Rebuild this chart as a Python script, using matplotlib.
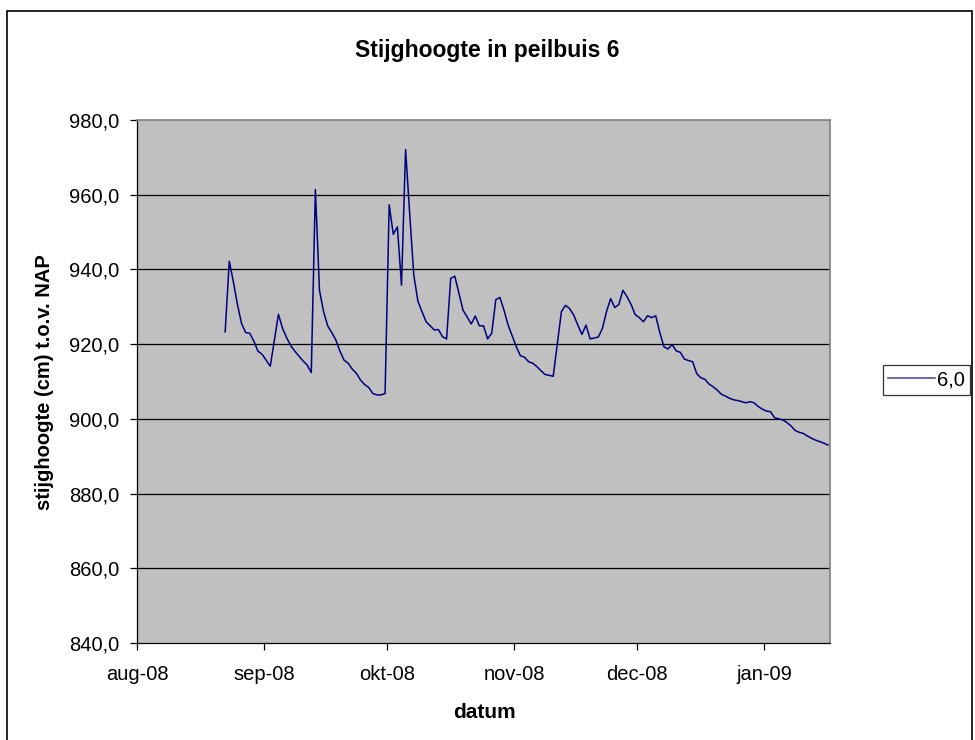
import numpy as np
import matplotlib
matplotlib.use("Agg")
import matplotlib.pyplot as plt
from matplotlib.ticker import FuncFormatter, MultipleLocator
from matplotlib.patches import Rectangle
import datetime as dt

# days since 1 aug 2008 for each reading
day_offsets = [21, 22, 23, 24, 25, 26, 27, 28, 29, 30, 32, 34, 35, 36, 37, 38,
               39, 40, 41, 42, 43, 44, 45, 46, 47, 48, 49, 50, 51, 52, 53, 54,
               55, 56, 57, 58, 59, 60, 61, 62, 63, 64, 65, 66, 67, 68, 69, 70,
               71, 72, 73, 74, 75, 76, 77, 78, 79, 80, 81, 82, 83, 84, 85, 86,
               87, 88, 89, 90, 91, 92, 93, 94, 95, 96, 97, 98, 99, 101, 102, 103,
               104, 105, 106, 107, 108, 109, 110, 112, 113, 114, 115, 116, 117,
               118, 119, 120, 121, 122, 123, 124, 125, 126, 127, 128, 129, 130,
               131, 132, 133, 134, 135, 136, 137, 138, 139, 140, 141, 142, 143,
               144, 145, 146, 147, 148, 149, 150, 151, 152, 153, 154, 155, 156,
               157, 158, 159, 160, 161, 162, 163, 164, 165, 166, 167, 168]

stijghoogte = [923.3, 942.2, 936.7, 930.6, 925.5, 923.1, 922.9, 920.8, 918.1, 917.3,
               914.1, 928.0, 924.2, 921.7, 919.6, 918.1, 916.8, 915.5, 914.4, 912.4,
               961.4, 934.4, 928.7, 924.9, 923.1, 921.1, 918.1, 915.7, 914.9, 913.3,
               912.2, 910.4, 909.2, 908.4, 906.8, 906.4, 906.4, 906.8, 957.3, 949.4,
               951.4, 935.8, 972.1, 954.9, 938.5, 931.5, 928.7, 926.0, 924.9, 923.8,
               923.9, 922.0, 921.4, 937.6, 938.2, 933.6, 929.1, 927.3, 925.4, 927.5,
               924.9, 924.9, 921.4, 922.9, 931.9, 932.5, 929.1, 925.1, 922.2, 919.3,
               916.9, 916.5, 915.3, 914.9, 914.0, 912.9, 911.9, 911.4, 920.0, 928.7,
               930.4, 929.5, 927.8, 925.1, 922.6, 925.1, 921.4, 921.9, 924.2, 928.7,
               932.2, 929.8, 930.6, 934.4, 932.7, 930.6, 927.9, 927.1, 926.0, 927.6,
               927.1, 927.6, 923.1, 919.3, 918.7, 919.9, 918.2, 917.8, 916.0, 915.6,
               915.3, 912.1, 911.0, 910.6, 909.3, 908.6, 907.7, 906.6, 906.1, 905.5,
               905.1, 904.9, 904.6, 904.3, 904.6, 904.3, 903.3, 902.6, 902.1, 901.9,
               900.3, 900.0, 899.7, 899.0, 898.1, 896.9, 896.4, 896.1, 895.4, 894.8,
               894.3, 893.9, 893.5, 893.0]

month_labels = ["aug-08", "sep-08", "okt-08", "nov-08", "dec-08", "jan-09"]
month_starts = [dt.datetime(2008, 8, 1), dt.datetime(2008, 9, 1), dt.datetime(2008, 10, 1),
                dt.datetime(2008, 11, 1), dt.datetime(2008, 12, 1), dt.datetime(2009, 1, 1)]

start = dt.datetime(2008, 8, 1)
# excel plots each day in the middle of its slot
dates = [start + dt.timedelta(days=d + 0.5) for d in day_offsets]

plt.rcParams["font.family"] = ["Liberation Sans", "DejaVu Sans"]

fig = plt.figure(figsize=(9.75, 7.4), dpi=100)
ax = fig.add_axes([137/975, 1 - 643/740, (830 - 137)/975, (643 - 120)/740])
ax.set_facecolor("#c0c0c0")

for v in [860, 880, 900, 920, 940, 960]:
    ax.axhline(v, color="black", lw=0.9, zorder=1)

ax.plot(dates, stijghoogte, color="#000080", lw=1.1, label="6,0", zorder=3)

ax.set_ylim(840, 980)
ax.set_xlim(start, start + dt.timedelta(days=169))
ax.yaxis.set_major_locator(MultipleLocator(20))
ax.yaxis.set_major_formatter(FuncFormatter(lambda v, p: ("%.1f" % v).replace(".", ",")))
ax.set_xticks(month_starts)
ax.set_xticklabels(month_labels)
ax.tick_params(axis="both", direction="out", length=5, width=0.9, labelsize=14.5, pad=8)
ax.tick_params(axis="x", pad=11)

for s in ["top", "right"]:
    ax.spines[s].set_color("#808080")
    ax.spines[s].set_linewidth(1.2)
for s in ["left", "bottom"]:
    ax.spines[s].set_color("black")
    ax.spines[s].set_linewidth(0.9)

fig.text(487/975, 1 - 50/740, "Stijghoogte in peilbuis 6", ha="center", va="center",
         fontsize=16.5, fontweight="bold")
fig.text(45/975, 1 - 382/740, "stijghoogte (cm) t.o.v. NAP", ha="center", va="center",
         rotation=90, fontsize=14.5, fontweight="bold")
fig.text(484/975, 1 - 713/740, "datum", ha="center", va="center",
         fontsize=15, fontweight="bold")

leg = fig.legend(loc="center", bbox_to_anchor=(926.5/975, 1 - 380/740), fontsize=14.5,
                 frameon=True, fancybox=False, handlelength=2.3, handletextpad=0.1,
                 borderpad=0.25, borderaxespad=0)
leg.get_frame().set_edgecolor("black")
leg.get_frame().set_linewidth(0.9)
leg.get_lines()[0].set_color("#4040a0")

fig.patches.append(Rectangle((7/975, -0.05), (972 - 7)/975, 1.05 - 11/740,
                             transform=fig.transFigure, fill=False, ec="black", lw=1.2))

fig.savefig("out.png", dpi=100)
